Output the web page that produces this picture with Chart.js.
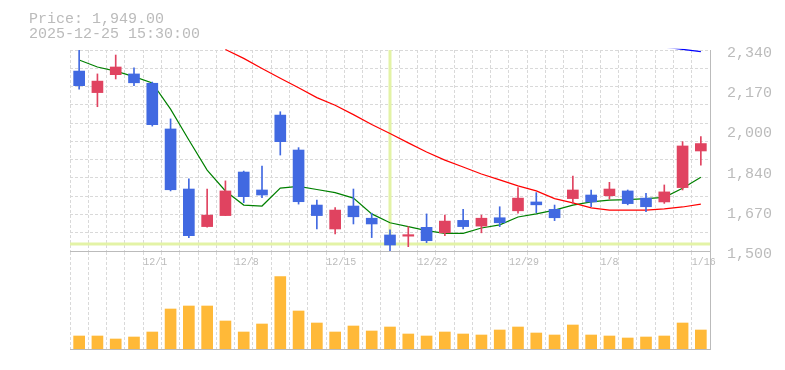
<!DOCTYPE html>
<html><head><meta charset="utf-8">
<script src="https://cdn.jsdelivr.net/npm/chart.js@4/dist/chart.umd.min.js"></script>
<style>
html,body{margin:0;padding:0;background:#fff;}
#wrap{position:relative;width:785px;height:370px;overflow:hidden;}
#wrap canvas{position:absolute;left:0;top:0;}
#hdr{position:absolute;left:29px;top:12px;font:15px/15px 'Liberation Mono',monospace;color:#bbb;white-space:pre;}
</style></head><body>
<div id="wrap">
<canvas id="vol" width="785" height="370"></canvas>
<canvas id="price" width="785" height="370"></canvas>
<div id="hdr"></div>
</div>
<script>
// ---- data ----
const dates = ['11/25','11/26','11/27','11/28','12/1','12/2','12/3','12/4','12/5','12/8','12/9','12/10','12/11','12/12','12/15','12/16','12/17','12/18','12/19','12/22','12/23','12/24','12/25','12/26','12/29','12/30','1/5','1/6','1/7','1/8','1/9','1/13','1/14','1/15','1/16'];
const tickDates = ['12/1','12/8','12/15','12/22','12/29','1/8','1/16'];
const opens  = [2252,2162,2237,2240,2201,2010,1759,1602,1648,1830,1755,2068,1922,1692,1592,1688,1637,1567,1562,1599,1576,1628,1604,1639,1668,1705,1674,1719,1734,1731,1751,1721,1705,1765,1918];
const highs  = [2345,2240,2319,2265,2206,2052,1802,1759,1793,1834,1855,2082,1932,1713,1681,1759,1658,1588,1602,1655,1650,1674,1650,1685,1765,1744,1692,1813,1755,1787,1755,1741,1776,1957,1978];
const lows   = [2176,2103,2219,2191,2022,1751,1556,1600,1648,1702,1723,1901,1696,1592,1571,1613,1556,1501,1518,1535,1564,1592,1576,1602,1658,1660,1627,1699,1685,1717,1693,1664,1699,1755,1859];
const closes = [2191,2210,2269,2203,2028,1756,1564,1650,1751,1727,1734,1957,1706,1648,1671,1643,1613,1525,1565,1543,1625,1602,1637,1618,1721,1693,1639,1755,1705,1759,1698,1685,1747,1939,1949];
const ma5  = [2298,2269,2252,2229,2202,2093,1964,1838,1751,1692,1688,1763,1770,1757,1744,1721,1655,1618,1602,1585,1574,1574,1596,1609,1642,1655,1671,1692,1705,1713,1715,1719,1724,1762,1808];
const ma25 = [null,null,null,null,null,null,null,null,2342,2305,2263,2222,2182,2141,2109,2070,2029,1991,1952,1914,1880,1851,1822,1797,1772,1751,1719,1701,1680,1671,1671,1671,1676,1684,1696];
const ma75 = [null,null,null,null,null,null,null,null,null,null,null,null,null,null,null,null,null,null,null,null,null,null,null,null,null,null,null,null,null,null,null,null,2352,2343,2333];
const volumes = [130,130,100,120,170,400,430,430,280,170,250,723,380,260,170,230,180,220,150,130,170,150,140,190,220,160,140,240,140,130,110,120,130,260,190];
const priceTicks = [1500,1668,1836,2004,2172,2340];
const priceTickLabels = ['1,500','1,670','1,840','2,000','2,170','2,340'];
const headerPrice = '1,949.00';
const headerTime = '2025-12-25 15:30:00';
const crosshairDate = '12/18';
const crosshairPrice = 1529;

// ---- styles ----
const UP = '#e04360', DOWN = '#4169e1', VOL = '#ffb938';
const GRID = '#d9d9d9', AXIS = '#bbbbbb', TXT = '#bbbbbb';
const MONO = "'Liberation Mono', monospace";

document.getElementById('hdr').textContent = 'Price: ' + headerPrice + '\n' + headerTime;

const candleColor = c => closes[c.dataIndex] >= opens[c.dataIndex] ? UP : DOWN;

const crosshairPlugin = {
  id: 'crosshair',
  beforeDatasetsDraw(chart) {
    const {ctx, chartArea, scales} = chart;
    const cx = scales.x.getPixelForValue(dates.indexOf(crosshairDate));
    const cy = scales.y.getPixelForValue(crosshairPrice);
    ctx.save();
    ctx.strokeStyle = '#e3f3a6';
    ctx.lineWidth = 3;
    ctx.beginPath();
    ctx.moveTo(cx, chartArea.top); ctx.lineTo(cx, cy);
    ctx.moveTo(chartArea.left, cy); ctx.lineTo(chartArea.right, cy);
    ctx.stroke();
    ctx.restore();
  }
};

Chart.defaults.animation = false;

new Chart(document.getElementById('price'), {
  type: 'bar',
  data: {
    labels: dates,
    datasets: [
      { type:'line', data: ma75, borderColor:'#0000ff', borderWidth:1.2, pointRadius:0, order:2, clip:{left:0,right:0,top:1.2,bottom:0} },
      { type:'line', data: ma25, borderColor:'#ff0000', borderWidth:1.2, pointRadius:0, order:2, clip:{left:0,right:0,top:2,bottom:0} },
      { type:'line', data: ma5, borderColor:'#008000', borderWidth:1.2, pointRadius:0, order:2 },
      { data: lows.map((l,i)=>[l, highs[i]]), backgroundColor: candleColor, barThickness:1, grouped:false, borderWidth:0, order:1 },
      { data: opens.map((o,i)=>[o, closes[i]]), backgroundColor: candleColor, barThickness:11, grouped:false, borderWidth:0, minBarLength:1.5, order:0 }
    ]
  },
  options: {
    responsive:false, events:[],
    layout:{ padding:{ left:70, top:50, right:0, bottom:99 } },
    plugins:{ legend:{display:false}, tooltip:{enabled:false} },
    scales:{
      x:{
        type:'category', offset:true,
        grid:{ offset:true, color:GRID, drawTicks:false },
        border:{ display:true, color:AXIS, width:1, dash:[3,2] },
        ticks:{ autoSkip:false, maxRotation:0, minRotation:0, align:'start', labelOffset:-9, padding:5,
                color:TXT, font:{family:MONO, size:10},
                callback:(v,i)=> tickDates.includes(dates[i]) ? dates[i] : '' },
        afterFit:s=>{ s.height = 20; }
      },
      y:{
        type:'linear', position:'right', min:1500, max:2340,
        grid:{ display:false },
        border:{ display:true, color:AXIS, width:1 },
        afterBuildTicks:s=>{ s.ticks = priceTicks.map(v=>({value:v})); },
        ticks:{ color:TXT, font:{family:MONO, size:15}, padding:9, labelOffset:3,
                callback:(v,i)=> priceTickLabels[i] },
        afterFit:s=>{ s.width = 75; }
      },
      yGrid:{
        type:'linear', position:'left', min:1500, max:2340,
        grid:{ color:GRID, drawTicks:false },
        border:{ display:false, dash:[3,2] },
        ticks:{ display:false, count:12 },
        afterFit:s=>{ s.width = 0; }
      }
    }
  },
  plugins:[crosshairPlugin]
});

new Chart(document.getElementById('vol'), {
  type:'bar',
  data:{ labels: dates, datasets:[ { data: volumes, backgroundColor: VOL, barThickness:11, borderWidth:0 } ] },
  options:{
    responsive:false, events:[],
    layout:{ padding:{ left:70, top:252, right:0, bottom:21 } },
    plugins:{ legend:{display:false}, tooltip:{enabled:false} },
    scales:{
      x:{
        type:'category', offset:true,
        grid:{ offset:true, color:GRID, drawTicks:false },
        border:{ display:true, color:AXIS, width:1, dash:[3,2] },
        ticks:{ display:false },
        afterFit:s=>{ s.height = 0; }
      },
      y:{
        type:'linear', position:'right', min:0, max:970,
        grid:{ display:false },
        border:{ display:true, color:AXIS, width:1 },
        ticks:{ display:false },
        afterFit:s=>{ s.width = 75; }
      }
    }
  }
});
</script>
</body></html>
